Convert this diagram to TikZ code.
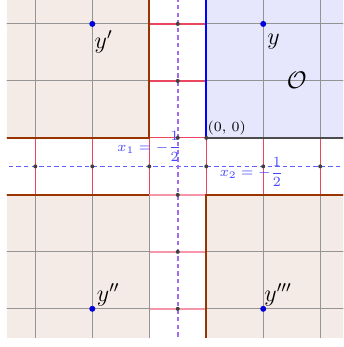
\documentclass[tikz,border=0pt]{standalone}
\usepackage{amsmath}
\usepackage{amssymb}
\usepackage{xcolor}
\usepackage{tikz}
\usetikzlibrary{positioning}

\definecolor{brownline}{RGB}{153,51,0}
\definecolor{brownfill}{RGB}{245,235,230}
\definecolor{bluefill}{RGB}{230,230,252}
\definecolor{gridred}{RGB}{235,70,95}
\definecolor{gridpink}{RGB}{247,150,170}
\definecolor{dashviolet}{RGB}{160,110,240}
\definecolor{dashblue}{RGB}{95,95,255}
\definecolor{pointblue}{RGB}{0,0,220}
\definecolor{labelblue}{RGB}{70,70,255}

\begin{document}
\begin{tikzpicture}[
        region/.style={fill=brownfill},
        quadrant/.style={fill=bluefill},
        greygrid/.style={draw=black!42, line width=0.5pt},
        redgrid/.style={draw=gridred, line width=0.6pt},
        pinkgrid/.style={draw=gridpink, line width=0.9pt},
        boundary/.style={draw=brownline, line width=1pt},
        halfline/.style={dash pattern=on 2.2pt off 1.6pt, line width=0.8pt},
        gridtick/.style={circle, fill=black!75, inner sep=0pt, minimum size=2pt},
        dotpt/.style={circle, fill=pointblue, inner sep=0pt, minimum size=3pt},
        ptlabel/.style={font=\large},
        eqlabel/.style={font=\scriptsize, text=labelblue}
    ]
        \useasboundingbox (-3.62,-3.67) rectangle (2.40,2.42);
        \begin{scope}
            \clip (-3.5,-3.51) rectangle (2.40,2.42);
            % strips between the regions
            \draw[redgrid] (-4,-4) grid (3,3);
            \draw[pinkgrid] (-1,-1) -- (0,-1);
            \draw[pinkgrid] (-1,-2) -- (0,-2);
            \draw[pinkgrid] (-1,-3) -- (0,-3);
            % regions
            \fill[region] (-4,0) rectangle (-1,3);
            \fill[region] (-4,-4) rectangle (-1,-1);
            \fill[region] (0,-4) rectangle (3,-1);
            \fill[quadrant] (0,0) rectangle (3,3);
            \draw[greygrid] (-4,0) grid (-1,3);
            \draw[greygrid] (-4,-4) grid (-1,-1);
            \draw[greygrid] (0,-4) grid (3,-1);
            \draw[greygrid] (0,0) grid (3,3);
            % edges
            \draw[boundary] (-4,0) -- (-1,0) -- (-1,3);
            \draw[boundary] (-4,-1) -- (-1,-1);
            \draw[boundary] (0,-4) -- (0,-1) -- (3,-1);
            \draw[draw=blue, line width=1pt] (0,3) -- (0,0);
            \draw[draw=black!70, line width=0.8pt] (0,0) -- (3,0);
            % the two lines x = -1/2
            \draw[halfline, dashblue] (-4,-0.5) -- (3,-0.5);
            \draw[halfline, dashviolet] (-0.5,3) -- (-0.5,-4);
        \end{scope}

        \node[gridtick] (v2) at (-0.5,2) {};
        \node[gridtick] (v1) at (-0.5,1) {};
        \node[gridtick] (v0) at (-0.5,0) {};
        \node[gridtick] (vm1) at (-0.5,-1) {};
        \node[gridtick] (vm2) at (-0.5,-2) {};
        \node[gridtick] (vm3) at (-0.5,-3) {};
        \node[gridtick] (hm3) at (-3,-0.5) {};
        \node[gridtick] (hm2) at (-2,-0.5) {};
        \node[gridtick] (hm1) at (-1,-0.5) {};
        \node[gridtick] (h0) at (0,-0.5) {};
        \node[gridtick] (h1) at (1,-0.5) {};
        \node[gridtick] (h2) at (2,-0.5) {};
        \node[gridtick] (origin) at (0,0) {};

        \node[dotpt] (y) at (1,2) {};
        \node[dotpt] (yp) at (-2,2) {};
        \node[dotpt] (ypp) at (-2,-3) {};
        \node[dotpt] (yppp) at (1,-3) {};

        \node[ptlabel] (ylabel) at (1.18,1.69) {$y$};
        \node[ptlabel] (yplabel) at (-1.8,1.69) {$y'$};
        \node[ptlabel] (ypplabel) at (-1.72,-2.76) {$y''$};
        \node[ptlabel] (yppplabel) at (1.26,-2.76) {$y'''$};
        \node[ptlabel] (olabel) at (1.59,1.01) {$\mathcal{O}$};
        \node[font=\scriptsize] (originlabel) at (0.36,0.165) {(0, 0)};
        \node[eqlabel] (xonelabel) at (-1.0,-0.155) {$x_1=-\dfrac{1}{2}$};
        \node[eqlabel] (xtwolabel) at (0.795,-0.60) {$x_2=-\dfrac{1}{2}$};
    \end{tikzpicture}
\end{document}
